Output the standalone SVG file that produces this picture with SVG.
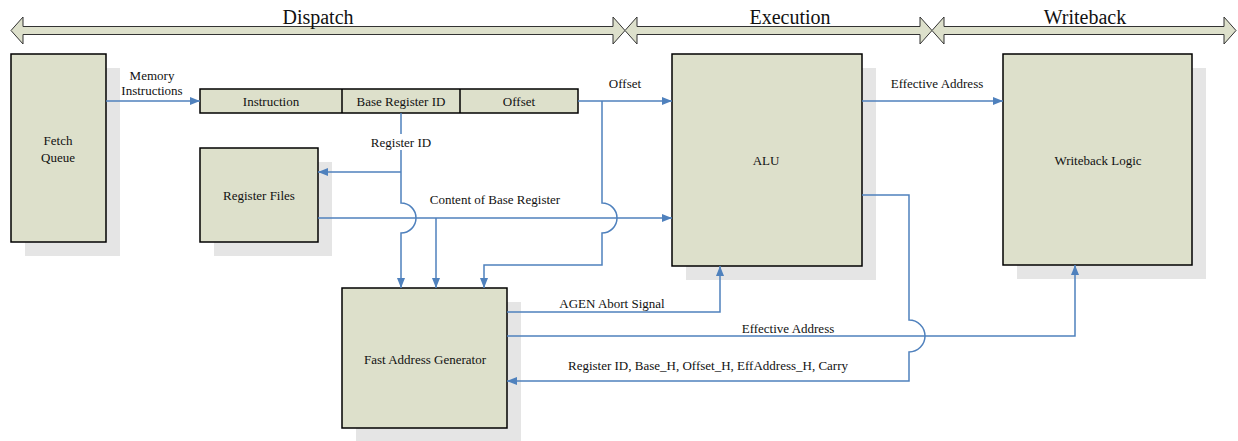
<svg xmlns="http://www.w3.org/2000/svg" width="1238" height="441" viewBox="0 0 1238 441">
<style>
.box{fill:#dde0cb;stroke:#000;stroke-width:1.5}
.sh{fill:#e5e5e5}
.stage{fill:#dde0cb;stroke:#333;stroke-width:1}
.ln{fill:none;stroke:#4f81bd;stroke-width:1.5}
text{font-family:'Liberation Serif','Times New Roman',Tinos,serif;fill:#111;text-anchor:middle}
.t{font-size:13px}
.big{font-size:20px}
</style>
<defs>
<marker id="ah" markerUnits="userSpaceOnUse" markerWidth="10" markerHeight="10" viewBox="0 0 10 10" refX="10" refY="5" orient="auto">
<path d="M0,1 L10,5 L0,9 Z" fill="#4f81bd"/>
</marker>
</defs>
<rect width="1238" height="441" fill="#fff"/>
<g id="stages" font-family="Liberation Serif, serif">
<path class="stage" d="M11,30.5 L23,17 L23,26.5 L613,26.5 L613,17 L625,30.5 L613,44 L613,34.5 L23,34.5 L23,44 Z"/>
<path class="stage" d="M625,30.5 L637,17 L637,26.5 L920,26.5 L920,17 L932,30.5 L920,44 L920,34.5 L637,34.5 L637,44 Z"/>
<path class="stage" d="M932,30.5 L944,17 L944,26.5 L1224,26.5 L1224,17 L1236,30.5 L1224,44 L1224,34.5 L944,34.5 L944,44 Z"/>
<text class="big" x="318" y="24">Dispatch</text>
<text class="big" x="790" y="24">Execution</text>
<text class="big" x="1085" y="24">Writeback</text>
</g>
<g id="fetch">
<rect class="sh" x="25" y="68" width="95" height="188"/>
<rect class="box" x="11" y="54" width="95" height="188"/>
<text class="t" x="58" y="144.5">Fetch</text>
<text class="t" x="58" y="161.5">Queue</text>
</g>
<g id="instr">
<rect class="box" x="200" y="89" width="378" height="24"/>
<line x1="342" y1="89" x2="342" y2="113" stroke="#000" stroke-width="1.5"/>
<line x1="460" y1="89" x2="460" y2="113" stroke="#000" stroke-width="1.5"/>
<text class="t" x="271" y="105.5">Instruction</text>
<text class="t" x="401" y="105.5">Base Register ID</text>
<text class="t" x="519" y="105.5">Offset</text>
</g>
<g id="regfiles">
<rect class="sh" x="214" y="162" width="118" height="94"/>
<rect class="box" x="200" y="148" width="118" height="94"/>
<text class="t" x="259" y="199.5">Register Files</text>
</g>
<g id="alu">
<rect class="sh" x="686" y="68" width="190" height="212"/>
<rect class="box" x="672" y="54" width="190" height="212"/>
<text class="t" x="766" y="164.5">ALU</text>
</g>
<g id="writeback">
<rect class="sh" x="1017" y="68" width="189" height="211"/>
<rect class="box" x="1003" y="54" width="189" height="211"/>
<text class="t" x="1098" y="164.5">Writeback Logic</text>
</g>
<g id="fag">
<rect class="sh" x="356" y="302" width="165" height="140"/>
<rect class="box" x="342" y="288" width="165" height="140"/>
<text class="t" x="425" y="363.5">Fast Address Generator</text>
</g>
<g id="connectors">
<path class="ln" d="M106,101 H200" marker-end="url(#ah)"/>
<path class="ln" d="M401,113 V203 A15,15 0 0 1 401,233 V288" marker-end="url(#ah)"/>
<path class="ln" d="M401,172 H318" marker-end="url(#ah)"/>
<path class="ln" d="M318,218 H672" marker-end="url(#ah)"/>
<path class="ln" d="M436,218 V288" marker-end="url(#ah)"/>
<path class="ln" d="M578,101 H672" marker-end="url(#ah)"/>
<path class="ln" d="M602,101 V203 A15,15 0 0 1 602,233 V265 H484 V288" marker-end="url(#ah)"/>
<path class="ln" d="M862,101 H1003" marker-end="url(#ah)"/>
<path class="ln" d="M507,312 H720 V266" marker-end="url(#ah)"/>
<path class="ln" d="M507,336 H1075 V265" marker-end="url(#ah)"/>
<path class="ln" d="M862,195 H909 V320 A16,16 0 0 1 909,352 V381 H507" marker-end="url(#ah)"/>
<rect x="366" y="134" width="70" height="16" fill="#fff"/>
<text class="t" x="152" y="79.5">Memory</text>
<text class="t" x="152" y="94.5">Instructions</text>
<text class="t" x="401" y="146.5">Register ID</text>
<text class="t" x="625" y="87.5">Offset</text>
<text class="t" x="495" y="203.5">Content of Base Register</text>
<text class="t" x="937" y="87.5">Effective Address</text>
<text class="t" x="612" y="307.5">AGEN Abort Signal</text>
<text class="t" x="788" y="332.5">Effective Address</text>
<text class="t" x="708" y="369.5">Register ID, Base_H, Offset_H, EffAddress_H, Carry</text>
</g>
</svg>
